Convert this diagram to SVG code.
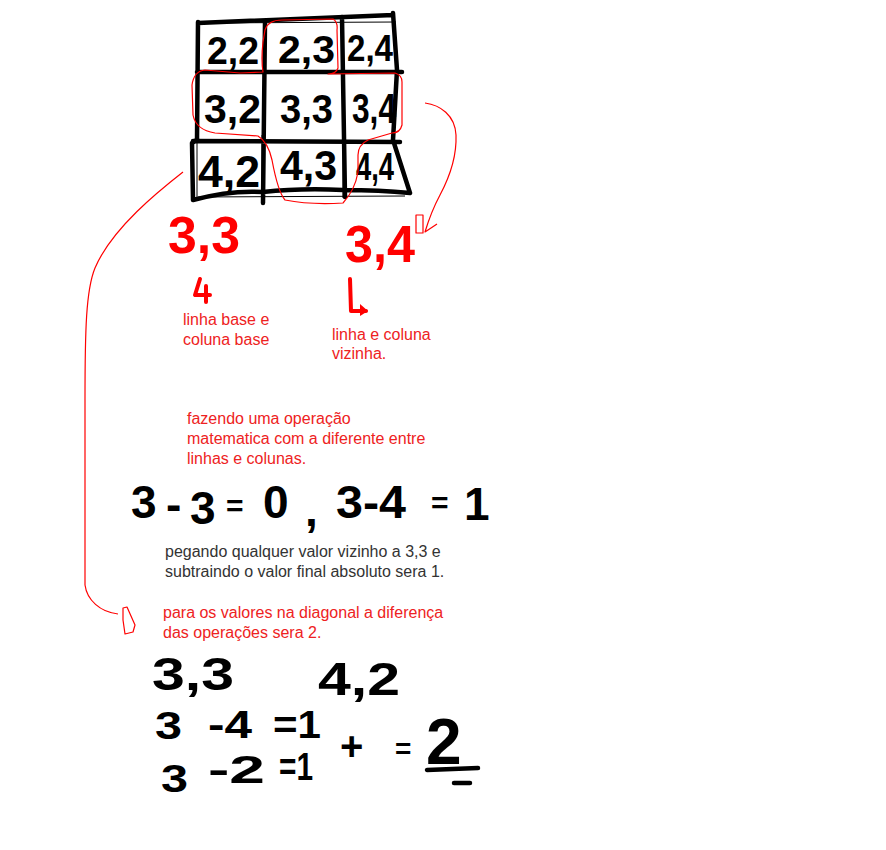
<svg xmlns="http://www.w3.org/2000/svg" width="886" height="850" viewBox="0 0 886 850">
<style>
.thick{fill:none;stroke:#000;stroke-width:4.5;stroke-linecap:round;stroke-linejoin:round}
.thin{fill:none;stroke:#000;stroke-width:1}
.rthin{fill:none;stroke:#ff0000;stroke-width:1.2;stroke-linejoin:round}
.rthick{fill:none;stroke:#ff0000;stroke-width:4;stroke-linecap:round;stroke-linejoin:round}
.hw{font-family:"Liberation Sans",Arial,sans-serif;font-weight:bold;fill:#000}
.hwr{font-family:"Liberation Sans",Arial,sans-serif;font-weight:bold;fill:#ff0000}
.note{font-family:"Liberation Sans",Arial,sans-serif;font-size:16px;fill:#ee2222}
.noteg{font-family:"Liberation Sans",Arial,sans-serif;font-size:16px;fill:#333}
</style>
<rect width="886" height="850" fill="#fff"/>
<g id="grid">
<path class="thin" d="M199,23 L396,22 M262,135 L262,200 M343,18 L343,198 M198,197 L405,196 M197,143 L197,198"/>
<path class="thick" d="M198,23 L393,15 M198,22 L197,140 L192,143 L193,200 M265,22 L263,203 M342,17 L345,197 M393,13 L397,70 L393,140 L410,193 M197,72 L402,72 M193,141 L400,142 M193,200 Q230,190 263,192 Q300,188 343,190 Q380,190 410,193"/>
</g>
<g id="cells">
<text class="hw" font-size="38" x="207" y="64" textLength="52" lengthAdjust="spacingAndGlyphs">2,2</text>
<text class="hw" font-size="38" x="278" y="63" textLength="57" lengthAdjust="spacingAndGlyphs">2,3</text>
<text class="hw" font-size="36" x="347" y="61" textLength="46" lengthAdjust="spacingAndGlyphs">2,4</text>
<text class="hw" font-size="40" x="204" y="123" textLength="57" lengthAdjust="spacingAndGlyphs">3,2</text>
<text class="hw" font-size="40" x="280" y="123" textLength="53" lengthAdjust="spacingAndGlyphs">3,3</text>
<text class="hw" font-size="42" x="352" y="123" textLength="44" lengthAdjust="spacingAndGlyphs">3,4</text>
<text class="hw" font-size="44" x="198" y="187" textLength="62" lengthAdjust="spacingAndGlyphs">4,2</text>
<text class="hw" font-size="42" x="280" y="180" textLength="57" lengthAdjust="spacingAndGlyphs">4,3</text>
<text class="hw" font-size="38" x="356" y="180" textLength="38" lengthAdjust="spacingAndGlyphs">4,4</text>
</g>
<g id="neighbors-outline">
<path class="rthin" d="M265,30 Q268,20 282,20 L333,19 Q338,22 337,30 L338,68 Q336,74 328,74 L395,73 Q402,75 402,82 L402,125 Q400,133 392,133 L368,140 Q358,145 358,155 L358,172 Q355,190 343,203 Q310,205 285,200 Q278,192 272,160 Q268,142 258,136 L215,133 Q196,130 193,115 L192,85 Q194,71 205,70 L240,73 L263,72 Q261,60 263,42 Z"/>
</g>
<g id="label-base">
<text class="hwr" font-size="52" x="168" y="253" textLength="72" lengthAdjust="spacingAndGlyphs">3,3</text>
<path class="rthick" d="M200,279 L195,295 L210,295 M206,286 L206,302"/>
<text class="note"><tspan x="183" y="325">linha base e</tspan><tspan x="183" y="345">coluna base</tspan></text>
</g>
<g id="label-neighbor">
<text class="hwr" font-size="52" x="345" y="262" textLength="70" lengthAdjust="spacingAndGlyphs">3,4</text>
<path class="rthick" d="M350,279 L351,311 L366,311"/>
<path d="M360,304 L368,311 L360,316 Z" fill="#ff0000"/>
<text class="note"><tspan x="332" y="340">linha e coluna</tspan><tspan x="332" y="359">vizinha.</tspan></text>
</g>
<g id="explanation">
<text class="note"><tspan x="187" y="424">fazendo uma operação</tspan><tspan x="187" y="444">matematica com a diferente entre</tspan><tspan x="187" y="464">linhas e colunas.</tspan></text>
</g>
<g id="equation-1">
<text class="hw" font-size="46"><tspan x="131" y="518">3</tspan><tspan x="166" y="520">-</tspan><tspan x="190" y="524">3</tspan><tspan x="263" y="518">0</tspan><tspan x="305" y="526">,</tspan><tspan x="464" y="520">1</tspan></text>
<text class="hw" font-size="46" x="336" y="518" textLength="70" lengthAdjust="spacingAndGlyphs">3-4</text>
<text class="hw" font-size="30"><tspan x="226" y="516">=</tspan><tspan x="431" y="513">=</tspan></text>
</g>
<g id="note-neighbor">
<text class="noteg"><tspan x="165" y="557">pegando qualquer valor vizinho a 3,3 e</tspan><tspan x="165" y="577">subtraindo o valor final absoluto sera 1.</tspan></text>
</g>
<g id="note-diagonal">
<text class="note"><tspan x="163" y="618">para os valores na diagonal a diferença</tspan><tspan x="163" y="638">das operações sera 2.</tspan></text>
</g>
<g id="equation-2">
<text class="hw" font-size="46" x="152" y="690" textLength="82" lengthAdjust="spacingAndGlyphs">3,3</text>
<text class="hw" font-size="46" x="318" y="695" textLength="82" lengthAdjust="spacingAndGlyphs">4,2</text>
<text class="hw" font-size="38" x="155" y="739" textLength="27" lengthAdjust="spacingAndGlyphs">3</text>
<text class="hw" font-size="38" x="161" y="792" textLength="27" lengthAdjust="spacingAndGlyphs">3</text>
<text class="hw" font-size="38" x="208" y="738" textLength="44" lengthAdjust="spacingAndGlyphs">-4</text>
<text class="hw" font-size="38" x="273" y="738" textLength="48" lengthAdjust="spacingAndGlyphs">=1</text>
<text class="hw" font-size="38" x="208" y="783" textLength="57" lengthAdjust="spacingAndGlyphs">-2</text>
<text class="hw" font-size="38" x="279" y="780" textLength="34" lengthAdjust="spacingAndGlyphs">=1</text>
<text class="hw" font-size="40" x="340" y="760">+</text>
<text class="hw" font-size="28" x="395" y="758">=</text>
<text class="hw" font-size="64" x="426" y="764">2</text>
<path class="thick" d="M427,770 L478,768 M454,783 L470,783"/>
</g>
<g id="connectors">
<path class="rthin" d="M183,172 C160,190 112,228 95,268 C86,290 85,330 85,400 L85,585 C87,600 100,612 118,614"/>
<path class="rthin" d="M123,608 L127,607 L135,625 L133,632 L125,634 L123,620 Z"/>
<path class="rthin" d="M425,103 C440,105 455,115 456,135 C457,160 448,180 440,195 C432,210 428,222 425,232 L437,224"/>
<rect class="rthin" x="416" y="215" width="7" height="18"/>
</g>
</svg>
